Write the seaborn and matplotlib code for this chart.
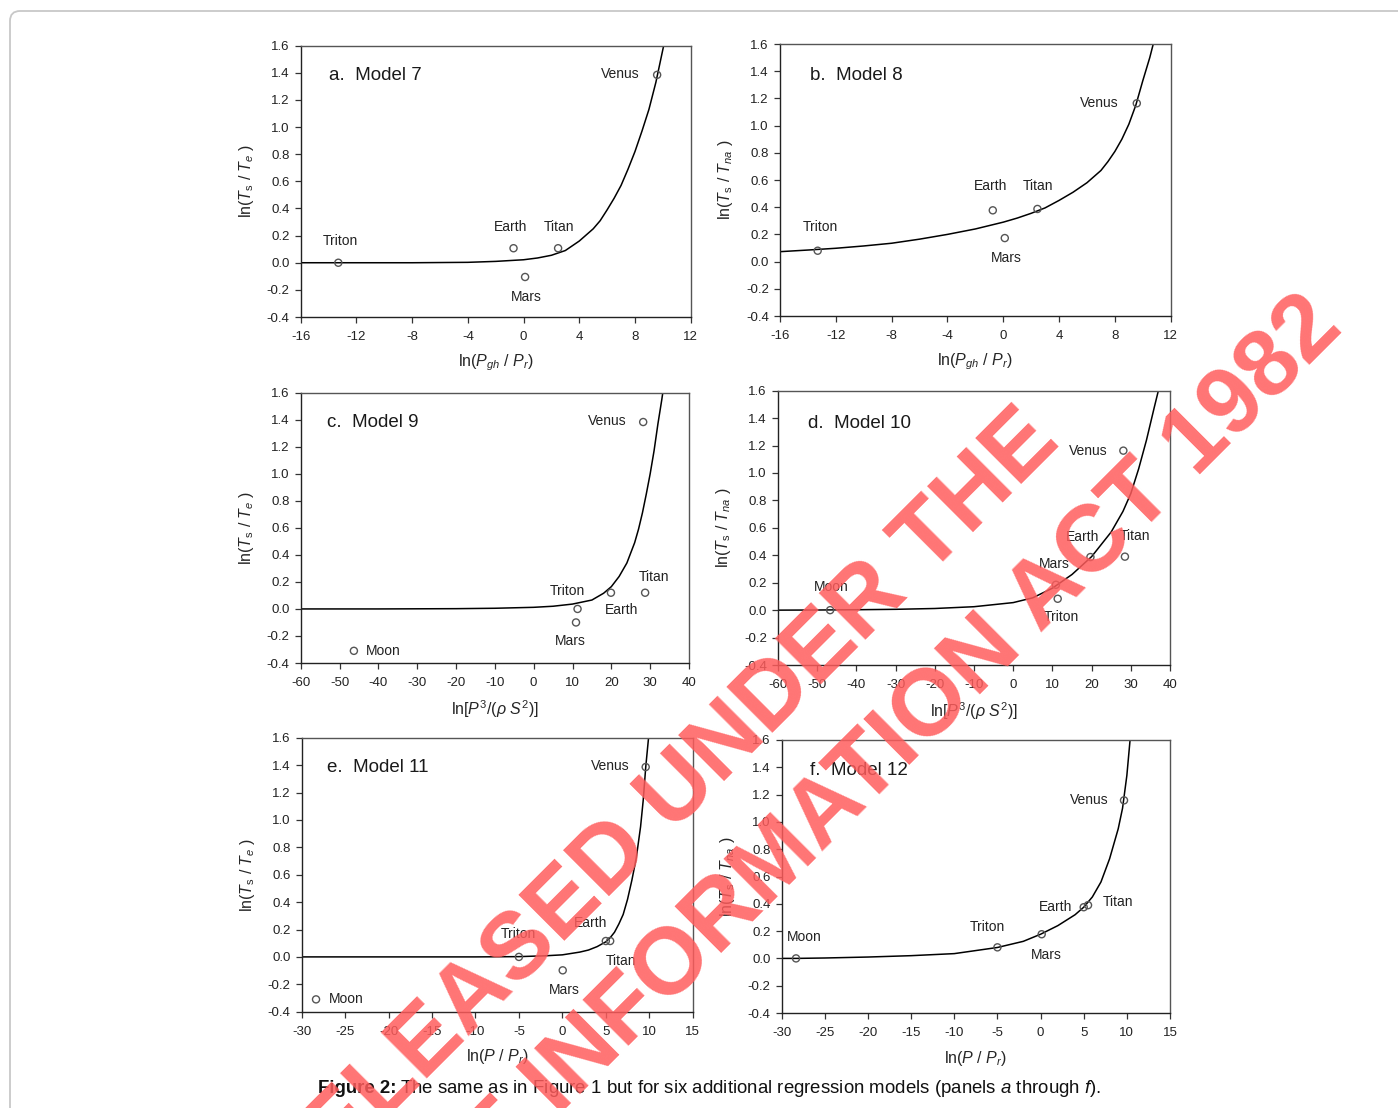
import numpy as np
import pandas as pd
import seaborn as sns
import matplotlib.pyplot as plt
from matplotlib.patches import FancyBboxPatch
from matplotlib.transforms import IdentityTransform

# ---------------- data ----------------
bodies_a = ['Triton', 'Earth', 'Titan', 'Mars', 'Venus']
x_a = [-13.3, -0.72, 2.48, 0.11, 9.59]
y_a = [0.0, 0.107, 0.107, -0.105, 1.385]
curve_x_a = [-16, -12, -8, -4, -2, 0, 1, 2, 3, 4, 5, 5.5, 6, 6.5, 7, 7.5, 8, 8.5, 9, 9.5, 10.1]
curve_y_a = [0, 0, 0, 0.003, 0.01, 0.022, 0.035, 0.055, 0.09, 0.16, 0.25, 0.31, 0.39, 0.475, 0.57, 0.69,
             0.82, 0.97, 1.13, 1.33, 1.62]

bodies_b = ['Triton', 'Earth', 'Titan', 'Mars', 'Venus']
x_b = [-13.3, -0.75, 2.45, 0.11, 9.57]
y_b = [0.08, 0.377, 0.387, 0.173, 1.164]
curve_x_b = [-16, -14, -12, -10, -8, -6, -4, -2, 0, 1, 2, 3, 4, 5, 6, 7, 7.5, 8, 8.5, 9, 9.5, 10, 10.5, 11]
curve_y_b = [0.073, 0.085, 0.098, 0.115, 0.135, 0.165, 0.2, 0.24, 0.29, 0.32, 0.355, 0.395, 0.45, 0.51,
             0.58, 0.67, 0.735, 0.81, 0.9, 1.01, 1.15, 1.33, 1.5, 1.7]

bodies_c = ['Moon', 'Triton', 'Mars', 'Earth', 'Titan', 'Venus']
x_c = [-46.3, 11.3, 10.9, 19.9, 28.7, 28.2]
y_c = [-0.31, 0.0, -0.1, 0.12, 0.12, 1.383]
curve_x_c = [-60, -40, -20, -10, 0, 5, 10, 15, 18, 20, 22, 24, 26, 27, 28, 29, 30, 31, 32, 33, 34]
curve_y_c = [0, 0, 0.002, 0.005, 0.012, 0.02, 0.036, 0.066, 0.116, 0.165, 0.24, 0.34, 0.49, 0.59, 0.71,
             0.85, 1.0, 1.17, 1.37, 1.55, 1.75]

bodies_d = ['Moon', 'Mars', 'Triton', 'Earth', 'Titan', 'Venus']
x_d = [-46.7, 10.9, 11.35, 19.7, 28.5, 28.1]
y_d = [0.0, 0.185, 0.083, 0.387, 0.39, 1.163]
curve_x_d = [-60, -50, -40, -30, -20, -10, 0, 5, 10, 15, 20, 25, 28, 30, 32, 34, 36, 37.2]
curve_y_d = [0, 0.001, 0.003, 0.006, 0.012, 0.025, 0.055, 0.09, 0.16, 0.26, 0.39, 0.57, 0.72, 0.85, 1.03,
             1.24, 1.48, 1.62]

bodies_e = ['Moon', 'Triton', 'Mars', 'Earth', 'Titan', 'Venus']
x_e = [-28.35, -5.0, 0.04, 5.0, 5.5, 9.59]
y_e = [-0.31, 0.0, -0.098, 0.116, 0.116, 1.386]
curve_x_e = [-30, -20, -10, -5, -2, 0, 2, 3, 4, 5, 5.5, 6, 6.5, 7, 7.5, 8, 8.5, 9, 9.3, 9.6, 9.95]
curve_y_e = [0, 0, 0, 0.002, 0.008, 0.015, 0.035, 0.05, 0.075, 0.11, 0.14, 0.18, 0.24, 0.31, 0.42, 0.56,
             0.72, 0.95, 1.14, 1.39, 1.62]

bodies_f = ['Moon', 'Triton', 'Mars', 'Earth', 'Titan', 'Venus']
x_f = [-28.34, -5.0, 0.13, 5.0, 5.5, 9.67]
y_f = [0.0, 0.081, 0.177, 0.375, 0.39, 1.158]
curve_x_f = [-30, -28.3, -25, -20, -15, -10, -5, -2, 0, 2, 4, 5, 6, 7, 8, 8.5, 9, 9.5, 10, 10.4]
curve_y_f = [0, 0, 0.003, 0.01, 0.02, 0.035, 0.08, 0.125, 0.177, 0.24, 0.32, 0.375, 0.45, 0.56, 0.73,
             0.84, 0.95, 1.1, 1.34, 1.62]

titles = ['a.  Model 7', 'b.  Model 8', 'c.  Model 9', 'd.  Model 10', 'e.  Model 11', 'f.  Model 12']
ylab_e = r'ln($T_{\mathrm{s}}$ / $T_e$ )'
ylab_na = r'ln($T_{\mathrm{s}}$ / $T_{na}$ )'
xlab_pgh = r'ln($P_{gh}$ / $P_r$)'
xlab_rho = r'ln[$P^3$/($\rho$ $S^2$)]'
xlab_p = r'ln($P$ / $P_r$)'

# ---------------- layout ----------------
W, H = 1398, 1108
# left, right, top, bottom in pixels
boxes = [(300.7, 690.7, 45.7, 317), (780, 1170.7, 44, 316),
         (300.7, 689, 392.7, 663), (778, 1170, 390.7, 665),
         (301.7, 692.7, 737.7, 1011.7), (781.7, 1170, 740, 1013)]

# text label positions (data coords, centre)
lab_pos = [
    {'Venus': (6.97, 1.39), 'Earth': (-0.93, 0.266), 'Titan': (2.52, 0.266), 'Triton': (-13.18, 0.162), 'Mars': (0.17, -0.25)},
    {'Venus': (6.89, 1.168), 'Earth': (-0.9, 0.558), 'Titan': (2.52, 0.558), 'Triton': (-13.13, 0.257), 'Mars': (0.25, 0.029)},
    {'Venus': (19.06, 1.393), 'Titan': (31.06, 0.239), 'Triton': (8.66, 0.133), 'Earth': (22.67, -0.008), 'Mars': (9.53, -0.235), 'Moon': (-38.7, -0.31)},
    {'Venus': (19.17, 1.16), 'Earth': (17.73, 0.535), 'Titan': (31.07, 0.543), 'Mars': (10.41, 0.336), 'Moon': (-46.3, 0.171), 'Triton': (12.37, -0.052)},
    {'Venus': (5.48, 1.396), 'Earth': (3.29, 0.245), 'Triton': (-5.03, 0.165), 'Titan': (6.75, -0.03), 'Mars': (0.22, -0.242), 'Moon': (-24.9, -0.307)},
    {'Venus': (5.61, 1.158), 'Titan': (9.0, 0.411), 'Earth': (1.79, 0.379), 'Triton': (-6.13, 0.232), 'Mars': (0.63, 0.025), 'Moon': (-27.38, 0.155)},
]
title_pos = [(-13.97, 1.384), (-13.85, 1.372), (-53.3, 1.378), (-52.4, 1.362), (-27.05, 1.384), (-26.72, 1.38)]

panels = [
    (bodies_a, x_a, y_a, curve_x_a, curve_y_a, (-16, 12), np.arange(-16, 13, 4), ylab_e, xlab_pgh),
    (bodies_b, x_b, y_b, curve_x_b, curve_y_b, (-16, 12), np.arange(-16, 13, 4), ylab_na, xlab_pgh),
    (bodies_c, x_c, y_c, curve_x_c, curve_y_c, (-60, 40), np.arange(-60, 41, 10), ylab_e, xlab_rho),
    (bodies_d, x_d, y_d, curve_x_d, curve_y_d, (-60, 40), np.arange(-60, 41, 10), ylab_na, xlab_rho),
    (bodies_e, x_e, y_e, curve_x_e, curve_y_e, (-30, 15), np.arange(-30, 16, 5), ylab_e, xlab_p),
    (bodies_f, x_f, y_f, curve_x_f, curve_y_f, (-30, 15), np.arange(-30, 16, 5), ylab_na, xlab_p),
]

sns.set_theme(style='ticks')
plt.rcParams['font.family'] = ['Liberation Sans', 'DejaVu Sans']
plt.rcParams['mathtext.fontset'] = 'custom'
plt.rcParams['mathtext.rm'] = 'Liberation Sans'
plt.rcParams['mathtext.it'] = 'Liberation Sans:italic'
plt.rcParams['mathtext.bf'] = 'Liberation Sans:bold'
plt.rcParams['text.color'] = '#222222'

fig = plt.figure(figsize=(W / 100, H / 100), dpi=100)
fig.patch.set_facecolor('white')

# rounded page frame (runs off the right and bottom edges)
frame = FancyBboxPatch((10, -30), 1420, 1127, boxstyle='round,pad=0,rounding_size=10',
                       transform=IdentityTransform(), facecolor='none', edgecolor='#c8c8c8', lw=1.3)
fig.patches.append(frame)

for i, (bodies, xs, ys, cx, cy, xlim, xticks, ylab, xlab) in enumerate(panels):
    l, r, t, b = boxes[i]
    ax = fig.add_axes([l / W, 1 - b / H, (r - l) / W, (b - t) / H])
    ax.set_facecolor('white')
    curve = pd.DataFrame({'x': cx, 'y': cy})
    pts = pd.DataFrame({'body': bodies, 'x': xs, 'y': ys})
    sns.lineplot(data=curve, x='x', y='y', ax=ax, color='black', lw=1.1, sort=False, estimator=None, zorder=2)
    sns.scatterplot(data=pts, x='x', y='y', ax=ax, marker='o', s=26, facecolor='none',
                    edgecolor='#555555', linewidth=1.0, zorder=3)
    for name, (lx, ly) in lab_pos[i].items():
        ax.text(lx, ly, name, fontsize=10, ha='center', va='center', color='#222222')
    tx, ty = title_pos[i]
    ax.text(tx, ty, titles[i], fontsize=13.5, ha='left', va='center', color='#1a1a1a')
    ax.set_xlim(*xlim)
    ax.set_ylim(-0.4, 1.6)
    ax.set_xticks(xticks)
    ax.set_xticklabels([str(v) for v in xticks])
    yt = np.round(np.arange(-0.4, 1.61, 0.2), 1)
    ax.set_yticks(yt)
    ax.set_yticklabels(['%.1f' % v for v in yt])
    ax.tick_params(axis='both', labelsize=9.5, length=4, width=0.9, color='#333333', labelcolor='#222222')
    ax.tick_params(axis='x', pad=6)
    ax.tick_params(axis='y', pad=4)
    for side in ['left', 'bottom']:
        ax.spines[side].set_color('#222222')
        ax.spines[side].set_linewidth(1.0)
    for side in ['top', 'right']:
        ax.spines[side].set_visible(True)
        ax.spines[side].set_color('#555555')
        ax.spines[side].set_linewidth(1.0)
    ax.set_xlabel(xlab, fontsize=11.5, labelpad=7)
    ax.set_ylabel(ylab, fontsize=11.5, labelpad=8)

# caption: bold lead-in followed by the plain sentence
renderer = fig.canvas.get_renderer()
cap_y = 1 - 1093 / H
lead = fig.text(318 / W, cap_y, 'Figure 2:', fontsize=13.4, fontweight='bold', ha='left', va='baseline',
                color='#111111')
bb = lead.get_window_extent(renderer=renderer)
fig.text((bb.x1 + 4) / W, cap_y,
         r'The same as in Figure 1 but for six additional regression models (panels $a$ through $f$).',
         fontsize=13.4, ha='left', va='baseline', color='#111111')

# watermark, one text per line
wm_style = dict(rotation=45, rotation_mode='anchor', ha='center', va='center', fontsize=68,
                fontweight='bold', color='#ff5c5c', alpha=0.85, zorder=10)
fig.text(658 / W, 1 - 813 / H, 'RELEASED UNDER THE', **wm_style)
fig.text(702 / W, 1 - 938 / H, 'FREEDOM OF INFORMATION ACT 1982', **wm_style)

fig.savefig('out.png', dpi=100)
